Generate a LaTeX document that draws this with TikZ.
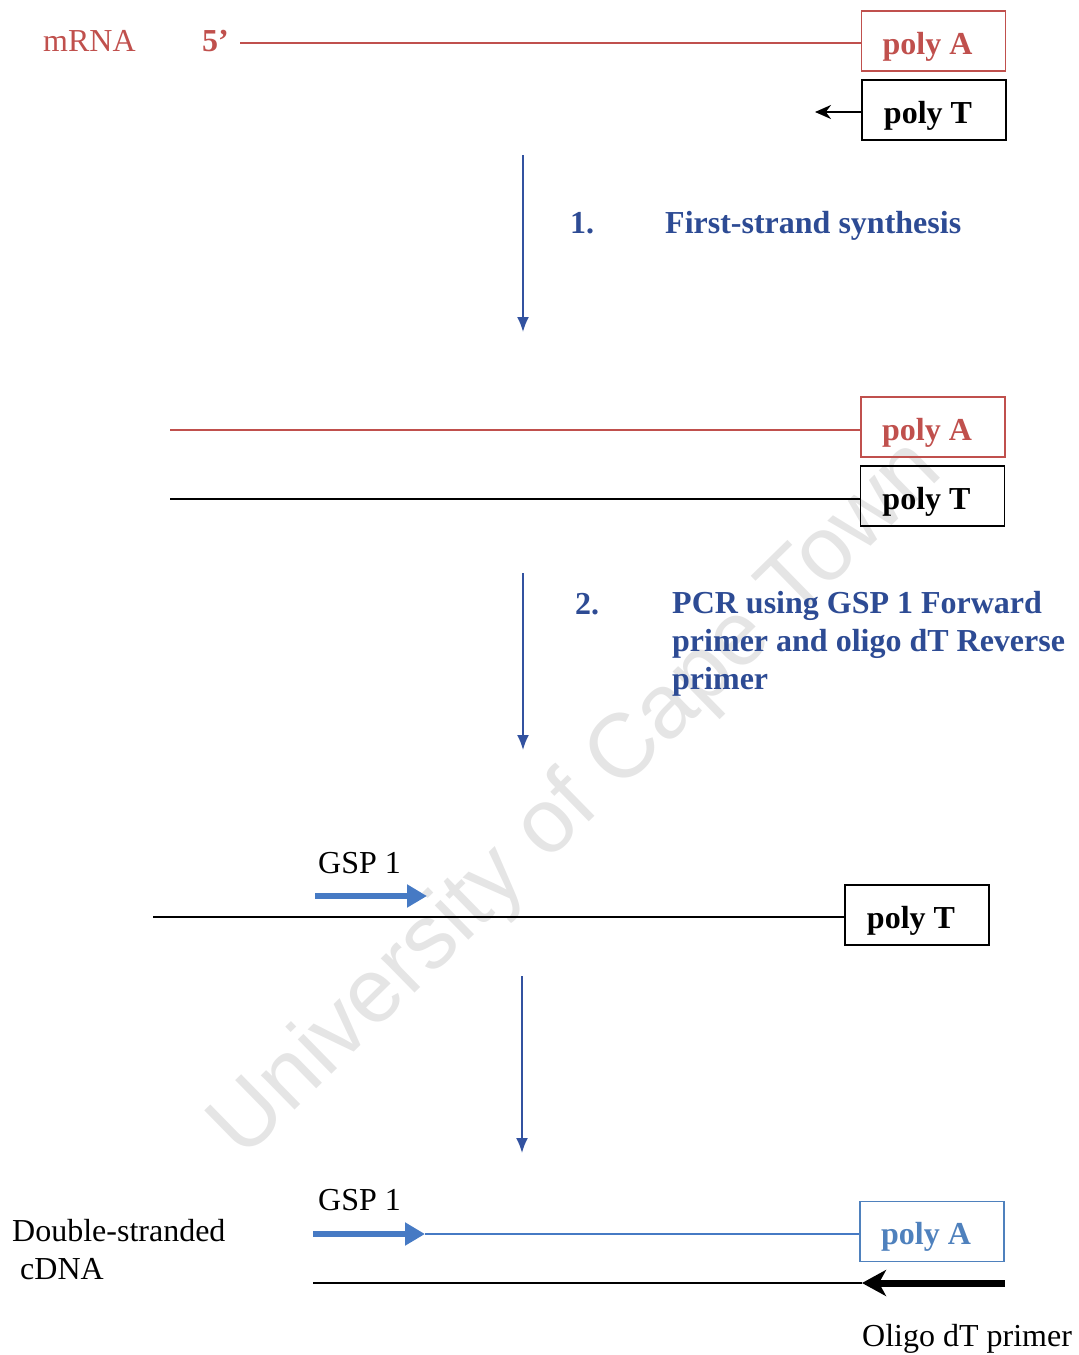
\documentclass[tikz,border=0pt]{standalone}
\usepackage{fontspec}
\setmainfont{Liberation Serif}
\newfontfamily\wmfont{Liberation Sans}
\usetikzlibrary{arrows.meta}
\definecolor{rnared}{RGB}{192,80,77}
\definecolor{stepblue}{RGB}{45,75,148}
\definecolor{arrblue}{RGB}{50,82,160}
\definecolor{primerblue}{RGB}{70,122,196}
\definecolor{boxblue}{RGB}{79,129,189}
\tikzset{
  txt/.style={font=\fontsize{32}{38}\selectfont, inner sep=0pt, anchor=base west},
  btxt/.style={font=\fontsize{32}{38}\selectfont\bfseries, inner sep=0pt, anchor=base west},
  polybox/.style={draw, line width=1.7pt, minimum width=144pt, minimum height=60pt, inner sep=0pt,
    text height=26pt, text depth=0pt, font=\fontsize{32}{38}\selectfont\bfseries,
    execute at end node={\hspace*{12pt}}},
  steparrow/.style={draw=arrblue, line width=1.8pt, -{Latex[length=15pt,width=12pt]}},
  primer/.style={draw=primerblue, line width=6.5pt, -{Triangle[length=20pt,width=22pt]}},
  strand/.style={line width=1.6pt},
}
\begin{document}
\begin{tikzpicture}[x=1pt,y=-1pt]
\useasboundingbox (0,0) rectangle (1079,1355);
% watermark
\node[rotate=44.4, text=black!10, font=\fontsize{91}{91}\selectfont\wmfont, inner sep=0pt] (wm) at (578,800) {University of Cape Town};

% ---- stage 1: mRNA
\node[txt, text=rnared] (mrna) at (43,51) {mRNA};
\node[btxt, text=rnared] (five) at (202,51) {5’};
\node[polybox, draw=rnared, text=rnared] (A1) at (933.5,41) {poly A};
\node[polybox, draw=black] (T1) at (934,110) {poly T};
\coordinate (s1) at (240,43);
\coordinate (t1end) at (815,112);
\draw[strand, draw=rnared] (s1) -- (s1 -| A1.west);
\draw[line width=2pt, -{Stealth[length=16pt,width=14pt]}] (T1.west |- t1end) -- (t1end);

% step 1
\coordinate (a1s) at (523,155);
\coordinate (a1e) at (523,332);
\draw[steparrow] (a1s) -- (a1e);
\node[btxt, text=stepblue] (n1) at (570,233) {1.};
\node[btxt, text=stepblue] (st1) at (665,233) {First-strand synthesis};

% ---- stage 2
\node[polybox, draw=rnared, text=rnared] (A2) at (933,427) {poly A};
\node[polybox, draw=black] (T2) at (932.5,496) {poly T};
\coordinate (s2a) at (170,430);
\coordinate (s2b) at (170,499);
\draw[strand, draw=rnared] (s2a) -- (s2a -| A2.west);
\draw[strand] (s2b) -- (s2b -| T2.west);

% step 2
\coordinate (a2s) at (523,573);
\coordinate (a2e) at (523,750);
\draw[steparrow] (a2s) -- (a2e);
\node[btxt, text=stepblue] (n2) at (575,614) {2.};
\node[btxt, text=stepblue, align=left, anchor=north west] (st2) at (672,591)
  {PCR using GSP 1 Forward\\[0pt]primer and oligo dT Reverse\\primer};

% ---- stage 3
\node[txt] (g3) at (318,873) {GSP 1};
\node[polybox, draw=black] (T3) at (917,915) {poly T};
\coordinate (p3s) at (315,896);
\coordinate (p3e) at (427,896);
\draw[primer] (p3s) -- (p3e);
\coordinate (s3) at (153,917);
\draw[strand] (s3) -- (s3 -| T3.west);

% step 3
\coordinate (a3s) at (522,976);
\coordinate (a3e) at (522,1153);
\draw[steparrow] (a3s) -- (a3e);

% ---- stage 4
\node[txt] (g4) at (318,1210) {GSP 1};
\node[txt] (ds) at (12,1241) {Double-stranded};
\node[txt] (cd) at (20,1279) {cDNA};
\node[polybox, draw=boxblue, text=boxblue] (A4) at (932,1231.5) {poly A};
\coordinate (p4s) at (313,1234);
\coordinate (p4e) at (425,1234);
\draw[strand, draw=primerblue, line width=1.3pt] (p4e) -- (p4e -| A4.west);
\draw[primer] (p4s) -- (p4e);
\coordinate (s4) at (313,1283);
\coordinate (olig) at (862,1283);
\draw[strand] (s4) -- (olig);
\draw[line width=7pt, -{Stealth[length=24pt,width=26pt,inset=7pt]}] (A4.east |- olig) -- (olig);
\node[txt] (odt) at (862,1346) {Oligo dT primer};
\end{tikzpicture}
\end{document}
